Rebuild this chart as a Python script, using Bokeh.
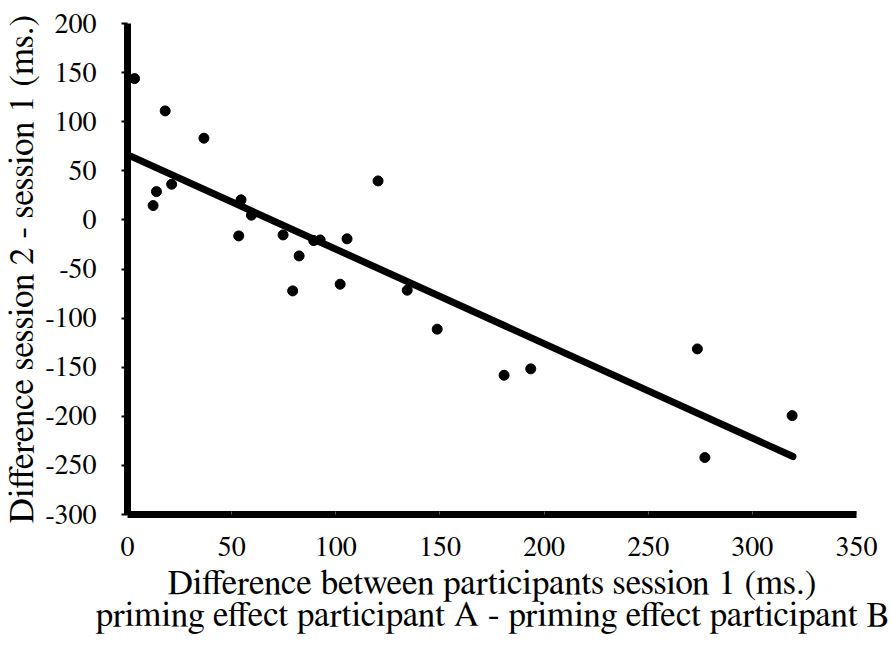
from bokeh.plotting import figure
from bokeh.models import Range1d, FixedTicker
from bokeh.embed import file_html
from bokeh.resources import INLINE

# data
session1_diff = [3.4, 18.1, 36.7, 12.3, 13.9, 21.2, 54.5, 59.5, 53.4, 74.7, 82.4, 79.3,
                 89.4, 92.5, 105.4, 102.1, 120.3, 134.3, 148.7, 180.8, 193.6, 273.6, 277.2, 319.1]
session2_minus_1 = [143.9, 111.0, 83.2, 14.6, 28.8, 36.3, 20.4, 4.8, -16.3, -15.3, -36.7, -72.3,
                    -21.1, -20.4, -19.3, -65.5, 39.7, -71.6, -111.3, -158.2, -151.7, -131.4, -242.0, -199.3]
trend_x = [1.5, 319.5]
trend_y = [65.0, -241.0]
x_ticks = [0, 50, 100, 150, 200, 250, 300, 350]
y_ticks = [-300, -250, -200, -150, -100, -50, 0, 50, 100, 150, 200]
x_title = "Difference between participants session 1 (ms.)\npriming effect participant A - priming effect participant B"
y_title = "Difference session 2 - session 1 (ms.)"

FONT = "FreeSerif"

p = figure(frame_width=729, frame_height=491, output_backend="svg", toolbar_location=None,
           x_range=Range1d(0, 350), y_range=Range1d(-300, 200),
           min_border_left=127, min_border_top=23, min_border_right=33, min_border_bottom=10)
p.grid.visible = False
p.outline_line_color = None
p.background_fill_color = "white"
p.border_fill_color = "white"

p.line(trend_x, trend_y, line_width=7, line_color="black", line_cap="round")
p.scatter(session1_diff, session2_minus_1, size=10, color="black")

p.xaxis.ticker = FixedTicker(ticks=x_ticks)
p.yaxis.ticker = FixedTicker(ticks=y_ticks)
p.xaxis.major_label_overrides = {t: str(t) for t in x_ticks}
p.yaxis.major_label_overrides = {t: str(t) for t in y_ticks}
p.xaxis.minor_tick_line_color = None
p.yaxis.minor_tick_line_color = None

for ax in (p.xaxis[0], p.yaxis[0]):
    ax.axis_line_width = 7
    ax.axis_line_color = "black"
    ax.major_label_text_font = FONT
    ax.major_label_text_font_size = "28px"
    ax.major_label_text_color = "black"
    ax.axis_label_text_font = FONT
    ax.axis_label_text_font_style = "normal"
    ax.axis_label_text_color = "black"

p.xaxis.axis_label_text_font_size = "35px"
p.xaxis.axis_label_text_line_height = 0.92
p.yaxis.axis_label_text_font_size = "35px"

p.xaxis.major_tick_in = 3
p.xaxis.major_tick_out = 0
p.xaxis.major_tick_line_color = "#555555"
p.xaxis.major_tick_line_width = 1
p.xaxis.major_label_standoff = 23
p.xaxis.axis_label = x_title
p.xaxis.axis_label_standoff = 7

p.yaxis.major_tick_in = 0
p.yaxis.major_tick_out = 6
p.yaxis.major_tick_line_width = 2
p.yaxis.major_tick_line_color = "black"
p.yaxis.major_label_standoff = 25
p.yaxis.axis_label = y_title
p.yaxis.axis_label_standoff = 2

open("out.html", "w").write(file_html(p, INLINE))
